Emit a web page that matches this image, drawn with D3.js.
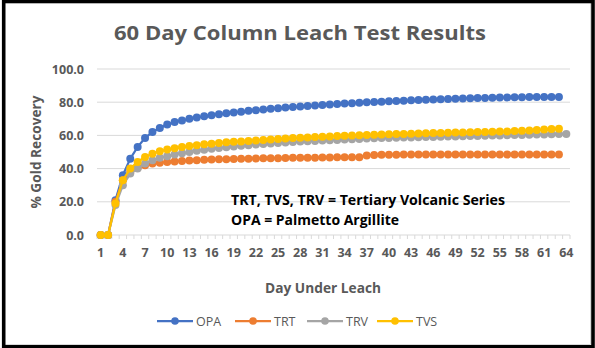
<!DOCTYPE html>
<html>
<head>
<meta charset="utf-8">
<script src="https://cdn.jsdelivr.net/npm/d3@7"></script>
<style>
  body { margin: 0; background: #fff; }
  svg { display: block; font-family: "Open Sans", "Liberation Sans", sans-serif; }
</style>
</head>
<body>
<div id="chart"></div>
<script>
// data
var days = d3.range(1, 65);
var seriesNames = ['OPA', 'TRT', 'TRV', 'TVS'];
var seriesColors = ['#4472C4', '#ED7D31', '#A5A5A5', '#FFC000'];
var yTicks = [0, 20, 40, 60, 80, 100];
var xTickDays = [1, 4, 7, 10, 13, 16, 19, 22, 25, 28, 31, 34, 37, 40, 43, 46, 49, 52, 55, 58, 61, 64];

var opa = [0, 0, 21, 36, 46, 53, 58.5, 62, 64.5, 66.5, 68, 69, 70, 70.8, 71.5, 72.2, 72.8, 73.3, 73.8, 74.3,
  74.8, 75.2, 75.6, 76, 76.4, 76.8, 77.1, 77.4, 77.7, 78, 78.3, 78.6, 78.9, 79.2, 79.4, 79.7, 79.9, 80.1, 80.3, 80.5,
  80.7, 80.9, 81.1, 81.3, 81.5, 81.7, 81.8, 82, 82.1, 82.3, 82.4, 82.5, 82.6, 82.7, 82.8, 82.9, 83, 83, 83.1, 83.1,
  83.2, 83.2, 83.2];
var trt = [0, 0, 20, 33, 38, 40.5, 42, 43, 43.5, 44, 44.3, 44.6, 44.9, 45.1, 45.3, 45.5, 45.6, 45.7, 45.8, 45.9,
  46, 46.1, 46.2, 46.3, 46.3, 46.4, 46.5, 46.5, 46.6, 46.6, 46.7, 46.7, 46.8, 46.8, 46.9, 46.9, 47.9, 48.2, 48.3, 48.4,
  48.4, 48.5, 48.5, 48.5, 48.5, 48.5, 48.5, 48.5, 48.5, 48.5, 48.5, 48.5, 48.5, 48.5, 48.5, 48.5, 48.5, 48.5, 48.5, 48.5,
  48.5, 48.5, 48.5];
var trv = [0, 0, 18, 30, 37, 40, 43, 45, 46.5, 47.5, 48.5, 49.3, 50, 50.7, 51.3, 51.9, 52.4, 52.9, 53.3, 53.7,
  54.1, 54.5, 54.8, 55.1, 55.4, 55.7, 56, 56.3, 56.5, 56.7, 56.9, 57.1, 57.3, 57.5, 57.7, 57.9, 58.1, 58.3, 58.4, 58.5,
  58.6, 58.7, 58.8, 58.9, 59, 59.1, 59.2, 59.3, 59.4, 59.5, 59.6, 59.7, 59.8, 59.9, 60, 60.1, 60.2, 60.3, 60.4, 60.5,
  60.6, 60.7, 60.8, 60.9];
var tvs = [0, 0, 19, 33, 40, 44, 47, 49, 50.5, 51.5, 52.3, 53, 53.6, 54.1, 54.6, 55, 55.4, 55.8, 56.1, 56.4,
  56.7, 57, 57.3, 57.6, 57.9, 58.2, 58.4, 58.6, 58.8, 59, 59.2, 59.4, 59.6, 59.8, 60, 60.1, 60.3, 60.4, 60.5, 60.7,
  60.8, 60.9, 61, 61.1, 61.3, 61.4, 61.5, 61.6, 61.7, 61.8, 61.9, 62, 62.1, 62.2, 62.3, 62.4, 62.6, 62.8, 63, 63.2,
  63.5, 63.8, 64];
var seriesValues = [opa, trt, trv, tvs];

var W = 595, H = 348;
var plot = {left: 97, right: 570, top: 69, bottom: 235};
var textGray = '#595959';

var svg = d3.select('#chart').append('svg')
  .attr('width', W)
  .attr('height', H);

svg.append('rect').attr('width', W).attr('height', H).attr('fill', '#fff');

// category axis: bands for the ticks, centres for the points
var xBand = d3.scaleBand().domain(days).range([plot.left, plot.right]);
var x = function(d) { return xBand(d) + xBand.bandwidth() / 2; };
var y = d3.scaleLinear().domain([0, 100]).range([plot.bottom, plot.top]);

// gridlines
svg.append('g')
  .selectAll('line')
  .data(yTicks.filter(function(v) { return v > 0; }))
  .enter().append('line')
  .attr('x1', plot.left).attr('x2', plot.right)
  .attr('y1', function(d) { return y(d); })
  .attr('y2', function(d) { return y(d); })
  .attr('stroke', '#D9D9D9')
  .attr('stroke-width', 1);

// y labels
svg.append('g')
  .selectAll('text')
  .data(yTicks)
  .enter().append('text')
  .attr('x', 84)
  .attr('y', function(d) { return y(d) + 4.5; })
  .attr('text-anchor', 'end')
  .attr('fill', textGray)
  .style('font-size', '12.5px')
  .style('font-weight', 'bold')
  .text(function(d) { return d.toFixed(1); });

// x axis line + minor ticks on category boundaries
svg.append('line')
  .attr('x1', plot.left).attr('x2', plot.right)
  .attr('y1', y(0)).attr('y2', y(0))
  .attr('stroke', '#D9D9D9');

var boundaries = days.map(function(d) { return xBand(d); }).concat([plot.right]);
svg.append('g')
  .selectAll('line')
  .data(boundaries)
  .enter().append('line')
  .attr('x1', function(d) { return d; }).attr('x2', function(d) { return d; })
  .attr('y1', y(0)).attr('y2', y(0) + 4)
  .attr('stroke', '#D9D9D9');

// x labels
svg.append('g')
  .selectAll('text')
  .data(xTickDays)
  .enter().append('text')
  .attr('x', function(d) { return x(d); })
  .attr('y', 257)
  .attr('text-anchor', 'middle')
  .attr('fill', textGray)
  .style('font-size', '12.5px')
  .style('font-weight', 'bold')
  .text(function(d) { return d; });

// series
var line = d3.line()
  .x(function(d, i) { return x(days[i]); })
  .y(function(d) { return y(d); });

seriesValues.forEach(function(vals, k) {
  var g = svg.append('g');
  g.append('path')
    .attr('d', line(vals))
    .attr('fill', 'none')
    .attr('stroke', seriesColors[k])
    .attr('stroke-width', 2.25)
    .attr('stroke-linejoin', 'round');
  g.selectAll('circle')
    .data(vals)
    .enter().append('circle')
    .attr('cx', function(d, i) { return x(days[i]); })
    .attr('cy', function(d) { return y(d); })
    .attr('r', 4)
    .attr('fill', seriesColors[k]);
});

// title
svg.append('text')
  .attr('x', 300).attr('y', 40)
  .attr('text-anchor', 'middle')
  .attr('fill', textGray)
  .attr('textLength', 372).attr('lengthAdjust', 'spacingAndGlyphs')
  .style('font-size', '19px')
  .style('font-weight', 'bold')
  .text('60 Day Column Leach Test Results');

// axis titles
svg.append('text')
  .attr('transform', 'translate(41,152) rotate(-90)')
  .attr('text-anchor', 'middle')
  .attr('fill', textGray)
  .attr('textLength', 113).attr('lengthAdjust', 'spacingAndGlyphs')
  .style('font-size', '14px')
  .style('font-weight', 'bold')
  .text('% Gold Recovery');

svg.append('text')
  .attr('x', 323).attr('y', 293)
  .attr('text-anchor', 'middle')
  .attr('fill', textGray)
  .attr('textLength', 116).attr('lengthAdjust', 'spacingAndGlyphs')
  .style('font-size', '14px')
  .style('font-weight', 'bold')
  .text('Day Under Leach');

// annotation
var notes = ['TRT, TVS, TRV = Tertiary Volcanic Series', 'OPA = Palmetto Argillite'];
var noteLens = [274, 168];
svg.append('g')
  .selectAll('text')
  .data(notes)
  .enter().append('text')
  .attr('x', 231)
  .attr('y', function(d, i) { return 205 + i * 19.5; })
  .attr('fill', '#000')
  .attr('textLength', function(d, i) { return noteLens[i]; })
  .attr('lengthAdjust', 'spacingAndGlyphs')
  .style('font-size', '14px')
  .style('font-weight', 'bold')
  .text(function(d) { return d; });

// legend
var legendX = [157, 235, 307, 377];
var lg = svg.append('g')
  .selectAll('g')
  .data(seriesNames)
  .enter().append('g')
  .attr('transform', function(d, i) { return 'translate(' + legendX[i] + ',321)'; });
lg.append('line')
  .attr('x1', 0).attr('x2', 36)
  .attr('stroke', function(d, i) { return seriesColors[i]; })
  .attr('stroke-width', 2.25);
lg.append('circle')
  .attr('cx', 18).attr('r', 3.8)
  .attr('fill', function(d, i) { return seriesColors[i]; });
lg.append('text')
  .attr('x', 39).attr('y', 4.5)
  .attr('fill', textGray)
  .style('font-size', '12.5px')
  .text(function(d) { return d; });

// frame
svg.append('path')
  .attr('d', 'M5,344.5H590.5V0')
  .attr('fill', 'none')
  .attr('stroke', '#D9D9D9');
svg.append('rect')
  .attr('x', 3.7).attr('y', 1.5)
  .attr('width', 589.3).attr('height', 345.3)
  .attr('fill', 'none')
  .attr('stroke', '#000')
  .attr('stroke-width', 3.6);
</script>
</body>
</html>
